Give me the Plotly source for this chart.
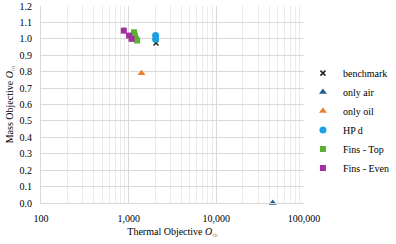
import plotly.graph_objects as go

# data
benchmark_x = [2050]
benchmark_y = [0.975]
only_air_x = [44000]
only_air_y = [0.0]
only_oil_x = [1400]
only_oil_y = [0.79]
hpd_x = [2030, 2030]
hpd_y = [1.02, 0.997]
fins_top_x = [1150, 1180, 1210, 1250]
fins_top_y = [1.04, 1.02, 1.0, 0.99]
fins_even_x = [880, 1010, 1080]
fins_even_y = [1.05, 1.02, 1.0]

y_ticks = [round(0.1 * i, 1) for i in range(13)]
x_ticks = [100, 1000, 10000, 100000]
x_tick_labels = ["100", "1,000", "10,000", "100,000"]

FONT = "Liberation Serif"

fig = go.Figure()
fig.add_trace(go.Scatter(x=benchmark_x, y=benchmark_y, mode="markers", name="benchmark",
                         marker=dict(symbol="x-thin", size=5, color="#222222",
                                     line=dict(width=1.5, color="#222222"))))
fig.add_trace(go.Scatter(x=only_air_x, y=only_air_y, mode="markers", name="only air",
                         marker=dict(symbol="triangle-up", size=7, color="#255E91")))
fig.add_trace(go.Scatter(x=only_oil_x, y=only_oil_y, mode="markers", name="only oil",
                         marker=dict(symbol="triangle-up", size=7, color="#ED7D31")))
fig.add_trace(go.Scatter(x=hpd_x, y=hpd_y, mode="markers", name="HP d",
                         marker=dict(symbol="circle", size=7, color="#1BA1E2")))
fig.add_trace(go.Scatter(x=fins_top_x, y=fins_top_y, mode="markers", name="Fins - Top",
                         marker=dict(symbol="square", size=6, color="#5DB035")))
fig.add_trace(go.Scatter(x=fins_even_x, y=fins_even_y, mode="markers", name="Fins - Even",
                         marker=dict(symbol="square", size=6, color="#A1309E")))
fig.update_traces(cliponaxis=False)

fig.update_layout(
    width=396, height=244,
    margin=dict(l=41, r=92, t=6, b=41, autoexpand=False),
    paper_bgcolor="white", plot_bgcolor="white",
    font=dict(family=FONT, size=10, color="#000000"),
    legend=dict(x=0.996, xanchor="left", y=0.733, yanchor="top",
                font=dict(family=FONT, size=10), itemwidth=30,
                tracegroupgap=0, bgcolor="rgba(0,0,0,0)"),
    showlegend=True,
)
fig.update_xaxes(type="log", range=[2, 5], tickvals=x_ticks, ticktext=x_tick_labels,
                 showgrid=True, gridcolor="#D9D9D9", gridwidth=1,
                 minor=dict(showgrid=True, gridcolor="#EBEBEB", gridwidth=1,
                            dtick="D1"),
                 zeroline=False, showline=True, linecolor="#D9D9D9", ticks="",
                 ticklabelstandoff=6,
                 title=dict(text="Thermal Objective <i>O</i><sub><span style='color:#999999'>th</span></sub>",
                            font=dict(family=FONT, size=10), standoff=4),
                 tickfont=dict(family=FONT, size=10))
fig.update_yaxes(range=[0, 1.2], tickvals=y_ticks, ticktext=[f"{v:.1f}" for v in y_ticks],
                 showgrid=True, gridcolor="#D9D9D9", gridwidth=1,
                 zeroline=False, showline=True, linecolor="#D9D9D9", ticks="",
                 ticklabelstandoff=6,
                 title=dict(text="Mass Objective <i>O</i><sub><span style='color:#999999'>m</span></sub>",
                            font=dict(family=FONT, size=10), standoff=4),
                 tickfont=dict(family=FONT, size=10))

fig.write_html("out.html")
